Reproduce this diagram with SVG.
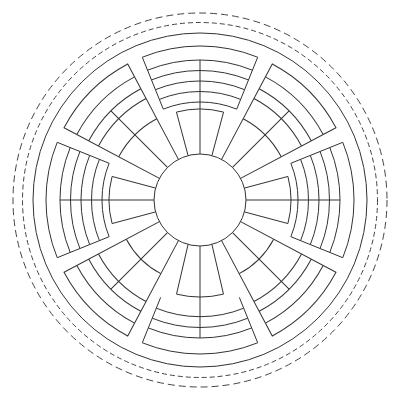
<svg xmlns="http://www.w3.org/2000/svg" width="400" height="400" viewBox="0 0 400 400">
<style>
.l{fill:none;stroke:#333;stroke-width:1}
.d1{fill:none;stroke:#444;stroke-width:1;stroke-dasharray:7 4}
.d2{fill:none;stroke:#444;stroke-width:1;stroke-dasharray:5 3}
</style>
<defs>
<g id="secA">
<path class="l" d="M142.31,57.21 A154,154 0 0 1 257.69,57.21 L236.71,109.13 A98,98 0 0 0 163.29,109.13 Z"/>
<path class="l" d="M147.56,70.19 A140,140 0 0 1 252.44,70.19 M151.49,79.93 A129.5,129.5 0 0 1 248.51,79.93 M155.42,89.66 A119,119 0 0 1 244.58,89.66 M159.36,99.40 A108.5,108.5 0 0 1 240.64,99.40"/>
<path class="l" d="M188.09,155.57 L176.45,112.10 A91,91 0 0 1 223.55,112.10 L211.91,155.57"/>
<path class="l" d="M200,154 L200,60"/>
</g>
<g id="secS">
<path class="l" d="M160.67,102.64 L142.31,57.21 A154,154 0 0 1 257.69,57.21 L239.33,102.64"/>
<path class="l" d="M156.28,91.80 A116.7,116.7 0 0 1 243.72,91.80 M152.24,81.78 A127.5,127.5 0 0 1 247.76,81.78 M148.31,72.05 A138,138 0 0 1 251.69,72.05"/>
<path class="l" d="M188.09,155.57 L176.53,105.88 A97,97 0 0 1 223.47,105.88 L211.91,155.57"/>
<path class="l" d="M200,154 L200,62"/>
</g>
<path id="secBframe" class="l" d="M186.55,156.01 L154.97,52.73 A154,154 0 0 1 245.03,52.73 L213.45,156.01 M159.21,66.60 A139.5,139.5 0 0 1 240.79,66.60 M163.16,79.51 A126,126 0 0 1 236.84,79.51 M166.38,90.03 A115,115 0 0 1 233.62,90.03 M200,154 L200,74"/>
</defs>
<g id="rings">
<circle class="d1" cx="200" cy="200" r="187"/>
<circle class="d2" cx="200" cy="200" r="177.5"/>
<circle class="l" cx="200" cy="200" r="167"/>
</g>
<g id="hub"><circle class="l" cx="200" cy="200" r="46"/></g>
<g id="sector-n"><use href="#secA"/></g>
<g id="sector-e"><use href="#secA" transform="rotate(90 200 200)"/></g>
<g id="sector-s"><use href="#secS" transform="rotate(180 200 200)"/></g>
<g id="sector-w"><use href="#secA" transform="rotate(270 200 200)"/></g>
<g id="sector-ne" transform="rotate(45 200 200)"><use href="#secBframe"/><path class="l" d="M173.1,112 A92,92 0 0 1 226.9,112"/></g>
<g id="sector-se" transform="rotate(135 200 200)"><use href="#secBframe"/><path class="l" d="M175.6,120.2 A83.5,83.5 0 0 1 224.4,120.2"/></g>
<g id="sector-sw" transform="rotate(225 200 200)"><use href="#secBframe"/><path class="l" d="M175.6,120.2 A83.5,83.5 0 0 1 224.4,120.2"/></g>
<g id="sector-nw" transform="rotate(315 200 200)"><use href="#secBframe"/><path class="l" d="M173.1,112 A92,92 0 0 1 226.9,112"/></g>
</svg>
